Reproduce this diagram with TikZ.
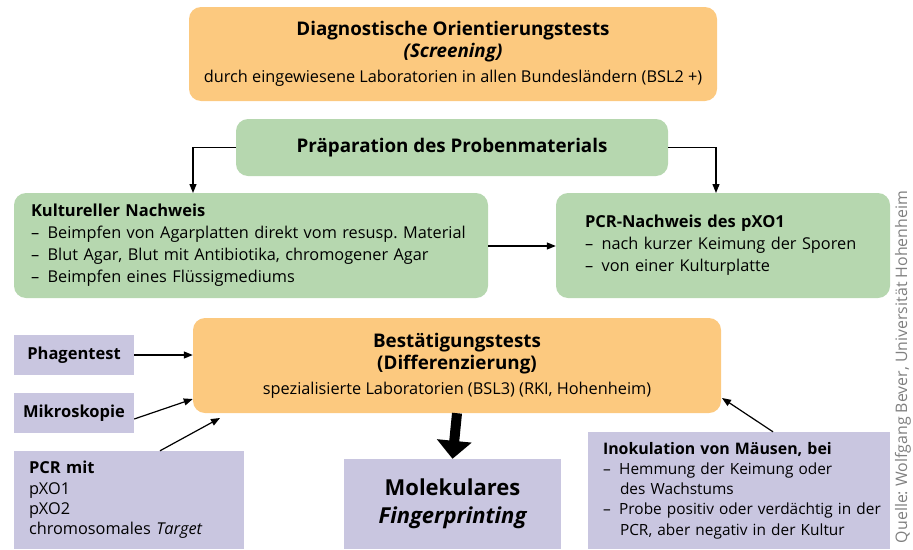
\documentclass[tikz,border=0pt]{standalone}
\usepackage{fontspec}
\setmainfont{Open Sans}
\usetikzlibrary{arrows.meta}
\frenchspacing
\definecolor{orng}{HTML}{FCC97F}
\definecolor{grn}{HTML}{B6D7AF}
\definecolor{lav}{HTML}{C9C6E0}
\newcommand{\bodyfont}{\normalfont\fontsize{16.3}{22}\selectfont}
\newcommand{\bigtitle}{\normalfont\fontsize{18.8}{23.5}\selectfont\bfseries}
\newcommand{\smtitle}{\normalfont\fontsize{16.5}{22}\selectfont\bfseries}
\newcommand{\inobody}{\normalfont\fontsize{15.4}{20.3}\selectfont}
\newcommand{\inotitle}{\normalfont\fontsize{15.9}{20.3}\selectfont\bfseries}
\newcommand{\dsh}{–\hspace{8.5pt}}
\newcommand{\ind}{\hspace*{17pt}}
\tikzset{
  obox/.style={fill=orng, rounded corners=12pt, draw=none, align=center, inner sep=0pt, font=\bodyfont},
  gbox/.style={fill=grn, rounded corners=12pt, draw=none, inner sep=0pt, font=\bodyfont},
  lbox/.style={fill=lav, draw=none, inner sep=0pt, font=\bodyfont},
  arr/.style={line width=1.2pt, -{Triangle[length=9pt,width=7pt]}},
}
\begin{document}
\begin{tikzpicture}[x=1pt,y=-1pt]
\useasboundingbox (0,0) rectangle (913,549);
\node[obox, minimum width=528pt, minimum height=94pt] (diag) at (453,54)
  {\bigtitle Diagnostische Orientierungstests\\
   \bigtitle\itshape (Screening)\\[3pt]
   \bodyfont durch eingewiesene Laboratorien in allen Bundesländern (BSL2 +)};
\node[gbox, minimum width=432pt, minimum height=57pt, font=\bigtitle] (prep) at (452,147.5)
  {Präparation des Probenmaterials};
\node[gbox, minimum width=474pt, minimum height=105pt, text width=440pt, align=left] (kult) at (251,245.5)
  {\smtitle Kultureller Nachweis\\
   \bodyfont\dsh Beimpfen von Agarplatten direkt vom resusp. Material\\
   \bodyfont\dsh Blut Agar, Blut mit Antibiotika, chromogener Agar\\
   \bodyfont\dsh Beimpfen eines Flüssigmediums};
\node[gbox, minimum width=334pt, minimum height=105pt, text width=276pt, align=left] (pcrn) at (723,245.5)
  {\smtitle PCR-Nachweis des pXO1\\
   \bodyfont\dsh nach kurzer Keimung der Sporen\\
   \bodyfont\dsh von einer Kulturplatte};
\node[obox, minimum width=528pt, minimum height=95pt] (best) at (457,365.5)
  {\bigtitle Bestätigungstests\\
   \bigtitle (Differenzierung)\\[3pt]
   \bodyfont spezialisierte Laboratorien (BSL3) (RKI, Hohenheim)};
\node[lbox, minimum width=120pt, minimum height=40pt, font=\smtitle] (phag) at (74,355) {Phagentest};
\node[lbox, minimum width=120pt, minimum height=40pt, font=\smtitle] (mikro) at (74,413) {Mikroskopie};
\node[lbox, minimum width=230pt, minimum height=98pt, text width=200pt, align=left, font=\bodyfont] (pcrm) at (129,500)
  {\smtitle PCR mit\\[-1.7pt]
   \bodyfont pXO1\\[-1.7pt] \bodyfont pXO2\\[-1.7pt] \bodyfont chromosomales \textit{Target}};
\node[lbox, minimum width=217pt, minimum height=90pt, align=center, font=\fontsize{22}{28}\selectfont\bfseries] (mol) at (452.5,504)
  {Molekulares\\ \fontsize{22}{28}\selectfont\bfseries\itshape Fingerprinting};
\node[lbox, minimum width=302pt, minimum height=117pt, text width=272pt, align=left, font=\inobody] (inok) at (739,490.5)
  {\inotitle Inokulation von Mäusen, bei\\
   \inobody\dsh Hemmung der Keimung oder\\
   \inobody\ind des Wachstums\\
   \inobody\mbox{\dsh Probe positiv oder verdächtig in der}\\
   \inobody\ind PCR, aber negativ in der Kultur};
\node[rotate=90, text=black!50, font=\fontsize{15.9}{18}\selectfont, anchor=center] (quelle) at (903,367)
  {Quelle: Wolfgang Bever, Universität Hohenheim};
% connectors
\draw[arr] (prep.west) -| (193,193);
\draw[arr] (prep.east) -| (716,193);
\draw[arr] (kult.east |- 0,246) -- (pcrn.west |- 0,246);
\draw[arr] (phag.east) -- (best.west |- phag.east);
\draw[arr] (mikro.east |- 0,419) -- (best.west |- 0,399);
\coordinate (bestpcr) at (220,418);
\draw[arr] (pcrm.north -| 160,0) -- (bestpcr);
\coordinate (bestinok) at (722,398);
\draw[arr] (inok.north -| 773,0) -- (bestinok);
\draw[line width=10pt, -{Triangle[length=18pt,width=34pt]}] (best.south) -- (mol.north);
\end{tikzpicture}
\end{document}
